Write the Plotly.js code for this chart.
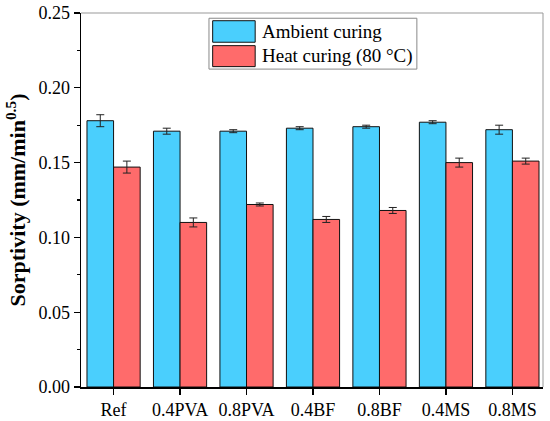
<!DOCTYPE html>
<html>
<head>
<meta charset="utf-8">
<script src="https://cdn.plot.ly/plotly-3.0.1.min.js"></script>
<style>html,body{margin:0;padding:0;background:#fff;}#chart{width:550px;height:421px;}</style>
</head>
<body>
<div id="chart"></div>
<script>
const categories = ['Ref', '0.4PVA', '0.8PVA', '0.4BF', '0.8BF', '0.4MS', '0.8MS'];
const ambientValues = [0.178, 0.171, 0.171, 0.173, 0.174, 0.177, 0.172];
const ambientErrors = [0.004, 0.002, 0.001, 0.001, 0.001, 0.001, 0.003];
const heatValues = [0.147, 0.110, 0.122, 0.112, 0.118, 0.150, 0.151];
const heatErrors = [0.004, 0.003, 0.001, 0.002, 0.002, 0.003, 0.002];
const seriesNames = ['Ambient curing', 'Heat curing (80 °C)'];
const seriesColors = ['#4ACFFD', '#FF6B6B'];
const yTickVals = [0, 0.05, 0.10, 0.15, 0.20, 0.25];
const yTickText = ['0.00', '0.05', '0.10', '0.15', '0.20', '0.25'];

const serif = 'Times New Roman';

const errStyle = {type: 'data', visible: true, color: '#222', thickness: 1, width: 4};

const traces = [
  {
    type: 'bar', name: seriesNames[0], x: categories, y: ambientValues,
    marker: {color: seriesColors[0], line: {color: '#111', width: 1}},
    error_y: Object.assign({array: ambientErrors}, errStyle)
  },
  {
    type: 'bar', name: seriesNames[1], x: categories, y: heatValues,
    marker: {color: seriesColors[1], line: {color: '#111', width: 1}},
    error_y: Object.assign({array: heatErrors}, errStyle)
  }
];

// legend drawn as a boxed key in paper coordinates
const legendBox = {x0: 0.277, x1: 0.727, y0: 0.850, y1: 0.986};
const swatchX = [0.285, 0.377];
const swatchY = [[0.9218, 0.9794], [0.8566, 0.9127]];
const labelX = 0.3874;

const shapes = [
  {type: 'line', xref: 'paper', yref: 'paper', x0: 0, x1: 1, y0: 1, y1: 1, line: {color: '#999', width: 1}},
  {type: 'line', xref: 'paper', yref: 'paper', x0: 1, x1: 1, y0: 0, y1: 1, line: {color: '#999', width: 1}},
  {type: 'rect', xref: 'paper', yref: 'paper', x0: legendBox.x0, x1: legendBox.x1, y0: legendBox.y0, y1: legendBox.y1,
   fillcolor: '#fff', line: {color: '#888', width: 1}, layer: 'above'}
];
const annotations = [];
seriesNames.forEach(function (name, i) {
  shapes.push({type: 'rect', xref: 'paper', yref: 'paper', x0: swatchX[0], x1: swatchX[1],
               y0: swatchY[i][0], y1: swatchY[i][1], fillcolor: seriesColors[i],
               line: {color: '#111', width: 1}, layer: 'above'});
  annotations.push({xref: 'paper', yref: 'paper', x: labelX, y: (swatchY[i][0] + swatchY[i][1]) / 2,
                    xanchor: 'left', yanchor: 'middle', showarrow: false, text: name,
                    font: {family: serif, size: 19, color: '#000'}});
});

const layout = {
  width: 550, height: 421,
  margin: {l: 81, r: 7, t: 13, b: 34},
  paper_bgcolor: '#fff', plot_bgcolor: '#fff',
  barmode: 'group', bargap: 0.2, bargroupgap: 0,
  font: {family: serif, size: 18, color: '#000'},
  showlegend: false,
  xaxis: {
    type: 'category', range: [-0.49, 6.46],
    showline: true, linecolor: '#000', linewidth: 1.5,
    ticks: 'outside', ticklen: 6, tickwidth: 1.2, tickcolor: '#000',
    showgrid: false, zeroline: false,
    tickfont: {family: serif, size: 18, color: '#000'}
  },
  yaxis: {
    range: [0, 0.25], tickvals: yTickVals, ticktext: yTickText,
    showline: true, linecolor: '#000', linewidth: 1.5,
    ticks: 'outside', ticklen: 6, tickwidth: 1.2, tickcolor: '#000',
    minor: {dtick: 0.025, ticks: 'outside', ticklen: 3, tickwidth: 1.2, tickcolor: '#000', showgrid: false},
    showgrid: false, zeroline: false,
    tickfont: {family: serif, size: 18, color: '#000'},
    title: {text: 'Sorptivity (mm/min<sup>0.5</sup>)', standoff: 6,
            font: {family: serif, size: 22, color: '#000', weight: 700}}
  },
  shapes: shapes,
  annotations: annotations
};

Plotly.newPlot('chart', traces, layout, {displayModeBar: false, staticPlot: true});
</script>
</body>
</html>
